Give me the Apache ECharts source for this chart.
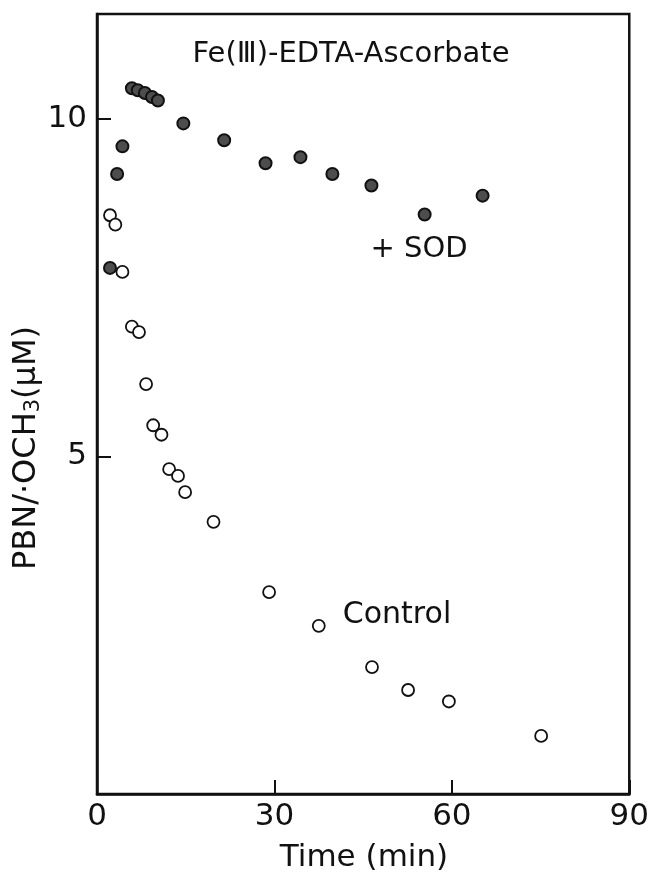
<!DOCTYPE html>
<html>
<head>
<meta charset="utf-8">
<script src="https://cdn.jsdelivr.net/npm/echarts@6/dist/echarts.min.js"></script>
<style>
html,body{margin:0;padding:0;background:#fff;}
#chart{width:652px;height:874px;}
</style>
</head>
<body>
<div id="chart"></div>
<script>
// Data
const sodTime  = [2.2, 3.4, 4.3, 5.9, 6.9, 8.1, 9.3, 10.3, 14.6, 21.5, 28.5, 34.4, 39.8, 46.4, 55.4, 65.2];
const sodConc  = [7.79, 9.18, 9.59, 10.45, 10.42, 10.38, 10.32, 10.27, 9.93, 9.68, 9.34, 9.43, 9.18, 9.01, 8.58, 8.86];
const ctrlTime = [2.2, 3.1, 4.3, 5.9, 7.1, 8.3, 9.5, 10.9, 12.2, 13.7, 14.9, 19.7, 29.1, 37.5, 46.5, 52.6, 59.5, 75.1];
const ctrlConc = [8.57, 8.43, 7.73, 6.92, 6.84, 6.07, 5.46, 5.32, 4.81, 4.71, 4.47, 4.03, 2.99, 2.49, 1.88, 1.54, 1.37, 0.86];
const xTicks = [0, 30, 60, 90];
const yTicks = [5, 10];
const titleText = 'Fe(Ⅲ)-EDTA-Ascorbate';
const sodLabel = '+ SOD';
const ctrlLabel = 'Control';
const xTitle = 'Time (min)';

const FONT = '"DejaVu Sans", "Liberation Sans", sans-serif';
const INK = '#111';

const chart = echarts.init(document.getElementById('chart'), null, {renderer: 'canvas'});

const sodData = sodTime.map((t, i) => [t, sodConc[i]]);
const ctrlData = ctrlTime.map((t, i) => [t, ctrlConc[i]]);

const option = {
  animation: false,
  backgroundColor: '#fff',
  grid: {left: 97, right: 22, top: 14, bottom: 80, show: true, borderColor: INK, borderWidth: 2.5, backgroundColor: 'transparent'},
  xAxis: {
    type: 'value', min: 0, max: 90, interval: 30,
    axisLine: {show: true, lineStyle: {color: INK, width: 2.5}},
    axisTick: {show: true, inside: true, length: 14, lineStyle: {color: INK, width: 2}},
    splitLine: {show: false},
    axisLabel: {color: INK, fontFamily: FONT, fontSize: 31, margin: 7,
      formatter: v => xTicks.includes(v) ? String(v) : ''}
  },
  yAxis: {
    type: 'value', min: 0, max: 11.55, interval: 5,
    axisLine: {show: true, lineStyle: {color: INK, width: 2.5}},
    axisTick: {show: true, inside: true, length: 14, lineStyle: {color: INK, width: 2}},
    splitLine: {show: false},
    axisLabel: {color: INK, fontFamily: FONT, fontSize: 31, margin: 10, showMinLabel: false, showMaxLabel: false,
      formatter: v => yTicks.includes(v) ? String(v) : ''}
  },
  series: [
    {
      name: '+SOD', type: 'scatter', data: sodData, symbol: 'circle', symbolSize: 12,
      itemStyle: {color: '#4d4d4d', borderColor: INK, borderWidth: 2, opacity: 1},
      z: 3
    },
    {
      name: 'Control', type: 'scatter', data: ctrlData, symbol: 'circle', symbolSize: 12,
      itemStyle: {color: '#fff', borderColor: INK, borderWidth: 1.8, opacity: 1},
      z: 4
    }
  ],
  graphic: [
    {type: 'text', x: 351, y: 54, style: {text: titleText, fill: INK, font: '29px ' + FONT, textAlign: 'center', textVerticalAlign: 'middle'}},
    {type: 'text', x: 419, y: 249, style: {text: sodLabel, fill: INK, font: '29px ' + FONT, textAlign: 'center', textVerticalAlign: 'middle'}},
    {type: 'text', x: 397, y: 615, style: {text: ctrlLabel, fill: INK, font: '30px ' + FONT, textAlign: 'center', textVerticalAlign: 'middle'}},
    {type: 'text', x: 364, y: 858, style: {text: xTitle, fill: INK, font: '31px ' + FONT, textAlign: 'center', textVerticalAlign: 'middle'}},
    {type: 'text', x: 27, y: 448, rotation: Math.PI / 2,
      style: {
        text: '{a|PBN/·OCH}{s|3}{a|(μM)}',
        textAlign: 'center', textVerticalAlign: 'middle',
        rich: {
          a: {fontFamily: FONT, fontSize: 32, fill: INK, color: INK},
          s: {fontFamily: FONT, fontSize: 21, fill: INK, color: INK, padding: [14, 0, 0, 0]}
        }
      }
    }
  ]
};
chart.setOption(option);
</script>
</body>
</html>
